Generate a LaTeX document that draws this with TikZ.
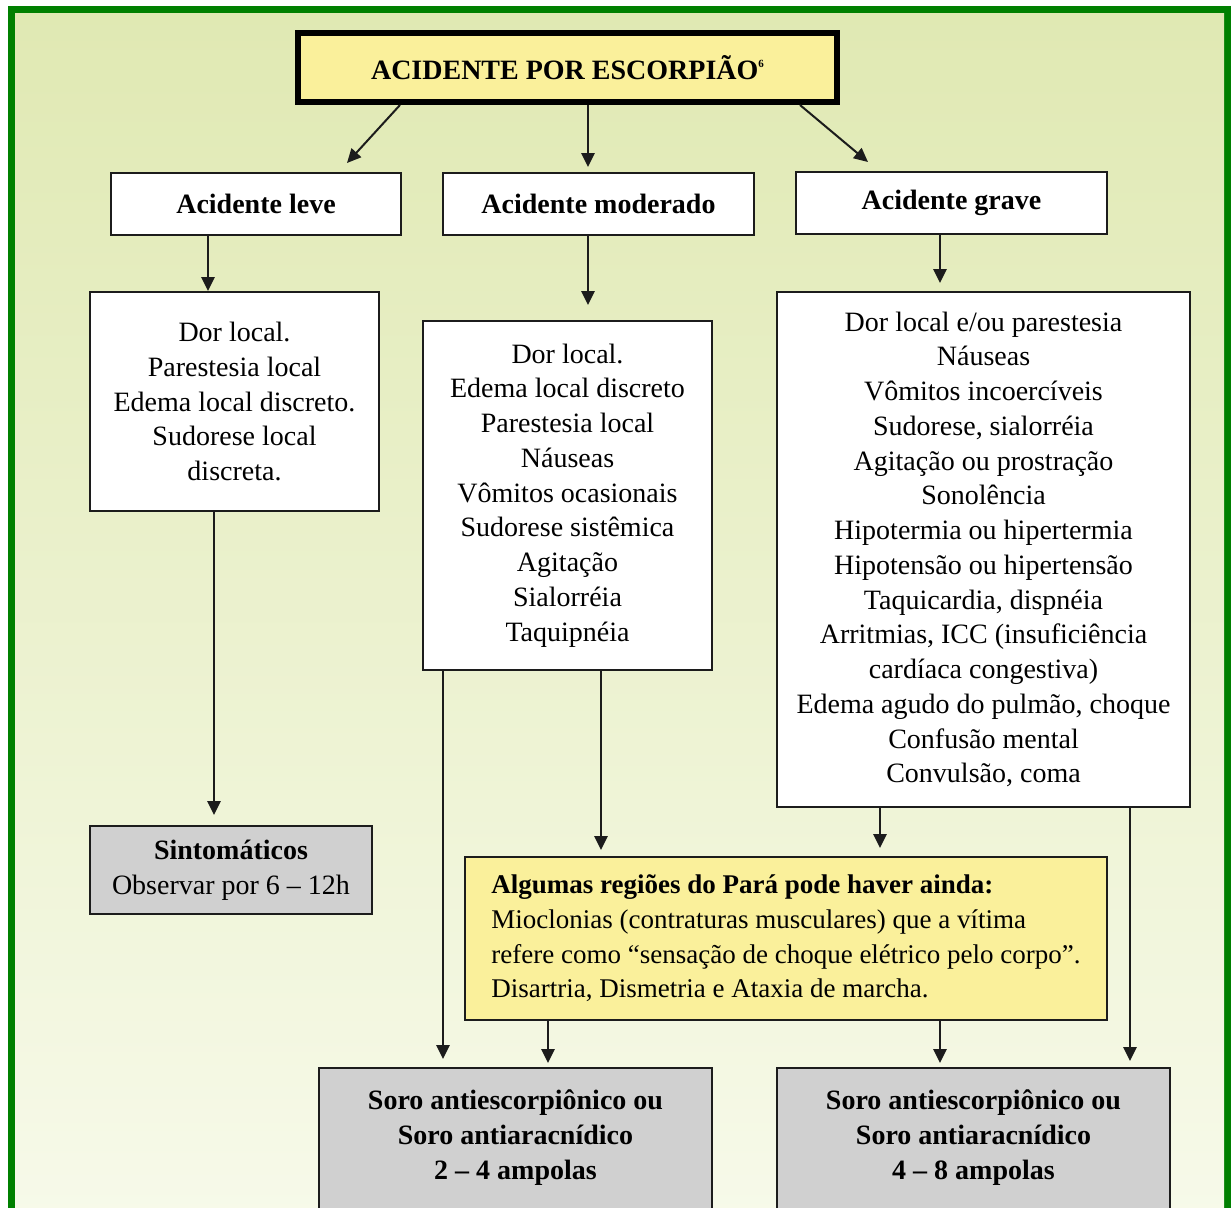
\documentclass[tikz,border=0pt]{standalone}
\usepackage{fontspec}
\setmainfont{Liberation Serif}
\usetikzlibrary{arrows.meta, positioning, calc}
\definecolor{frameGreen}{HTML}{008000}
\definecolor{bgTop}{HTML}{E0E9B3}
\definecolor{bgBottom}{HTML}{F7FAEA}
\definecolor{boxYellow}{HTML}{FAF09B}
\definecolor{boxGray}{HTML}{D0D0D0}
\definecolor{lineDark}{HTML}{1C1C1C}
\tikzset{
  box/.style={draw=lineDark, line width=2pt, fill=white, align=center, inner sep=0pt,
    font=\fontsize{28pt}{34.75pt}\selectfont},
  levelbox/.style={box, font=\fontsize{28pt}{34.75pt}\selectfont\bfseries},
  titlebox/.style={levelbox, line width=6pt, draw=black, fill=boxYellow},
  graybox/.style={box, fill=boxGray},
  notebox/.style={box, fill=boxYellow, align=left, font=\fontsize{27pt}{34.75pt}\selectfont},
  arr/.style={-{Triangle[width=13pt,length=14pt]}, line width=2.7pt, draw=lineDark}
}
\begin{document}
\begin{tikzpicture}[x=1pt,y=-1pt]
  \useasboundingbox (0,0) rectangle (1231,1207);
  \clip (0,0) rectangle (1231,1207);
  % frame and background
  \fill[frameGreen] (8,6) rectangle (1231,1230);
  \shade[top color=bgTop, bottom color=bgBottom] (15,14) rectangle (1224,1230);

  % title and levels
  \node[titlebox, minimum width=539pt, minimum height=69pt] (title) at (567.5,67.5)
    {ACIDENTE POR ESCORPIÃO\raisebox{12pt}{\fontsize{11pt}{11pt}\selectfont 6}};
  \node[levelbox, minimum width=290pt, minimum height=62pt] (leve) at (256,204) {Acidente leve};
  \node[levelbox, minimum width=311pt, minimum height=62pt] (moderado) at (598.5,204) {Acidente moderado};
  \node[levelbox, minimum width=311pt, minimum height=62pt] (grave) at (951.5,203) {Acidente grave};

  % symptoms
  \node[box, minimum width=289pt, minimum height=219pt] (leveSint) at (234.5,401.5)
    {Dor local.\\Parestesia local\\Edema local discreto.\\Sudorese local\\discreta.};
  \node[box, minimum width=289pt, minimum height=349pt] (modSint) at (567.5,495.5)
    {Dor local.\\Edema local discreto\\Parestesia local\\Náuseas\\Vômitos ocasionais\\
     Sudorese sistêmica\\Agitação\\Sialorréia\\Taquipnéia};
  \node[box, minimum width=413pt, minimum height=515pt] (graveSint) at (983.5,549.5)
    {Dor local e/ou parestesia\\Náuseas\\Vômitos incoercíveis\\Sudorese, sialorréia\\
     Agitação ou prostração\\Sonolência\\Hipotermia ou hipertermia\\Hipotensão ou hipertensão\\
     Taquicardia, dispnéia\\Arritmias, ICC (insuficiência\\cardíaca congestiva)\\
     Edema agudo do pulmão, choque\\Confusão mental\\Convulsão, coma};

  % treatment
  \node[graybox, minimum width=282pt, minimum height=88pt] (sintomaticos) at (231,870)
    {\textbf{Sintomáticos}\\Observar por 6 – 12h};
  \node[notebox, minimum width=642pt, minimum height=163pt] (regioes) at (786,938.5)
    {\textbf{Algumas regiões do Pará pode haver ainda:}\\
     Mioclonias (contraturas musculares) que a vítima\\
     refere como “sensação de choque elétrico pelo corpo”.\\
     Disartria, Dismetria e Ataxia de marcha.};
  \node[graybox, font=\fontsize{28pt}{34.75pt}\selectfont\bfseries, anchor=north,
    minimum width=393pt, inner ysep=22pt, text depth=160pt] (soroMod) at (515.5,1067)
    {Soro antiescorpiônico ou\\Soro antiaracnídico\\2 – 4 ampolas};
  \node[graybox, font=\fontsize{28pt}{34.75pt}\selectfont\bfseries, anchor=north,
    minimum width=393pt, inner ysep=22pt, text depth=160pt] (soroGrave) at (973.5,1067)
    {Soro antiescorpiônico ou\\Soro antiaracnídico\\4 – 8 ampolas};

  % connector ends
  \coordinate (tL) at ([xshift=-167.5pt]title.south);
  \coordinate (tM) at ([xshift=20.5pt]title.south);
  \coordinate (tR) at ([xshift=232.5pt]title.south);
  \coordinate (eL) at ([xshift=91pt,yshift=9pt]leve.north);
  \coordinate (eR) at ([xshift=-83.5pt,yshift=9pt]grave.north);
  \coordinate (lv) at ([xshift=-48pt]leve.south);
  \coordinate (md) at ([xshift=-10.5pt]moderado.south);
  \coordinate (gr) at ([xshift=-11.5pt]grave.south);
  \coordinate (lvS) at ([xshift=-20.5pt]leveSint.south);
  \coordinate (mdA) at ([xshift=-124.5pt]modSint.south);
  \coordinate (mdB) at ([xshift=33.5pt]modSint.south);
  \coordinate (grA) at ([xshift=-103.5pt]graveSint.south);
  \coordinate (grB) at ([xshift=146.5pt]graveSint.south);
  \coordinate (rgA) at ([xshift=-238pt]regioes.south);
  \coordinate (rgB) at ([xshift=154pt]regioes.south);

  \draw[arr, line width=2pt] (tL) -- (eL);
  \draw[arr, shorten >=5pt] (tM) -- (tM |- moderado.north);
  \draw[arr, line width=2pt] (tR) -- (eR);
  \draw[arr] (lv) -- (lv |- leveSint.north);
  \draw[arr, shorten >=15pt] (md) -- (md |- modSint.north);
  \draw[arr, shorten >=8pt] (gr) -- (gr |- graveSint.north);
  \draw[arr, shorten >=10pt] (lvS) -- (lvS |- sintomaticos.north);
  \draw[arr, shorten >=8pt] (mdA) -- (mdA |- soroMod.north);
  \draw[arr, shorten >=6pt] (mdB) -- (mdB |- regioes.north);
  \draw[arr, shorten >=8pt] (grA) -- (grA |- regioes.north);
  \draw[arr, shorten >=6pt] (grB) -- (grB |- soroGrave.north);
  \draw[arr, shorten >=4pt] (rgA) -- (rgA |- soroMod.north);
  \draw[arr, shorten >=4pt] (rgB) -- (rgB |- soroGrave.north);
\end{tikzpicture}
\end{document}
